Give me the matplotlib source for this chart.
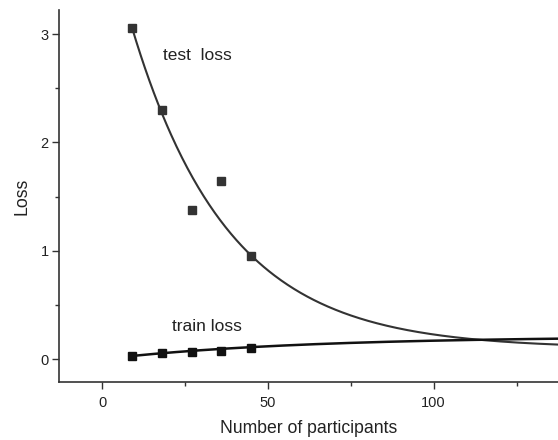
import numpy as np
import matplotlib
matplotlib.use("Agg")
import matplotlib.pyplot as plt

participants = [9, 18, 27, 36, 45]
test_loss = [3.06, 2.30, 1.375, 1.64, 0.95]
train_loss = [0.03, 0.06, 0.065, 0.077, 0.105]

# exponential fit parameters (y0, A, t) of the curves in the original figure
# test:  y = y0 + A*exp(-x/t)   train: y = y0 - A*exp(-x/t)
test_fit = (0.10, 4.04, 29.0)
train_fit = (0.211, 0.21, 60.0)

plt.rcParams['font.family'] = ['Liberation Sans', 'DejaVu Sans']

fig = plt.figure(figsize=(5.58, 4.40), dpi=100)
ax = fig.add_axes([0.1057, 0.1318, 0.8943, 0.845])

xs = np.linspace(participants[0], 140, 400)
test_curve = test_fit[0] + test_fit[1] * np.exp(-xs / test_fit[2])
train_curve = train_fit[0] - train_fit[1] * np.exp(-xs / train_fit[2])

ax.plot(xs, test_curve, color='#333333', lw=1.5)
ax.plot(xs, train_curve, color='#111111', lw=1.8)
ax.plot(participants, test_loss, 's', color='#333333', ms=5.5)
ax.plot(participants, train_loss, 's', color='#111111', ms=5.5)

ax.text(18.4, 2.8, 'test  loss', fontsize=12.5, va='center', ha='left', color='#222222')
ax.text(21.1, 0.30, 'train loss', fontsize=12.5, va='center', ha='left', color='#222222')

ax.set_xlim(-13, 137.5)
ax.set_ylim(-0.21, 3.22)
ax.set_xticks([0, 50, 100])
ax.set_xticks([25, 75, 125], minor=True)
ax.set_yticks([0, 1, 2, 3])
ax.set_yticks([0.5, 1.5, 2.5], minor=True)

for s in ['top', 'right']:
    ax.spines[s].set_visible(False)
for s in ['left', 'bottom']:
    ax.spines[s].set_color('#333333')
    ax.spines[s].set_linewidth(1.2)

ax.tick_params(which='major', length=5, width=1, color='#333333', labelsize=10.5, labelcolor='#222222')
ax.tick_params(which='minor', length=3, width=1, color='#333333')
ax.tick_params(axis='x', pad=5)
ax.tick_params(axis='y', pad=2.5)

ax.set_xlabel('Number of participants', fontsize=12.7, color='#222222', labelpad=7)
ax.set_ylabel('Loss', fontsize=12.7, color='#222222', labelpad=7)

fig.savefig('out.png', dpi=100)
